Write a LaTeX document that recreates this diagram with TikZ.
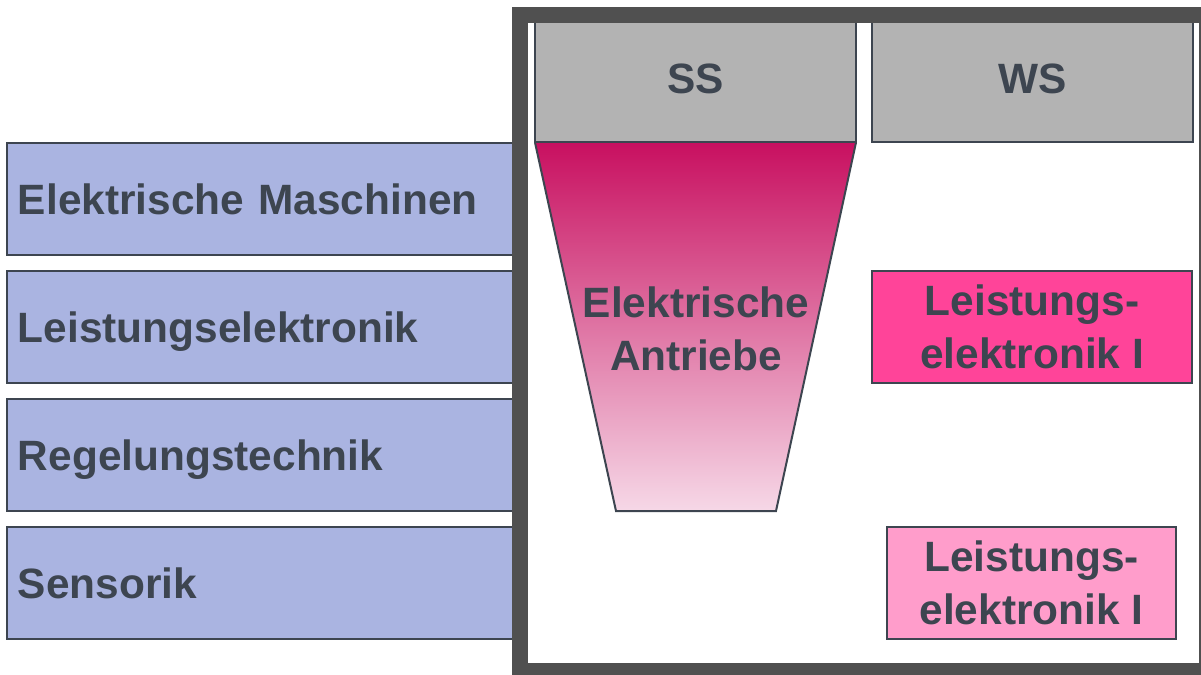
\documentclass[tikz,border=0pt]{standalone}
\usepackage{fontspec}
\setmainfont{Liberation Sans}
\usepackage{tikz}
\usetikzlibrary{positioning}

\definecolor{slate}{RGB}{61,69,80}
\definecolor{framegray}{RGB}{80,80,80}
\definecolor{lavender}{RGB}{170,180,225}
\definecolor{headgray}{RGB}{179,179,179}
\definecolor{hotpink}{RGB}{255,68,153}
\definecolor{lightpink}{RGB}{255,157,203}
\definecolor{berry}{RGB}{200,16,96}
\definecolor{blush}{RGB}{246,216,231}

\tikzset{
  lbl/.style={font=\fontsize{21.2}{26.5}\selectfont\bfseries, text=slate},
  topic/.style={lbl, draw=slate, line width=1pt, fill=lavender, minimum width=256.5pt,
    minimum height=56pt, text width=245.5pt, align=left, inner xsep=5.5pt,
    text height=15.2pt, text depth=0pt},
  term/.style={lbl, draw=slate, line width=1pt, fill=headgray, minimum width=160.5pt,
    minimum height=63.5pt},
  course/.style={lbl, draw=slate, line width=1pt, minimum height=56pt, align=center},
}

\begin{document}
\begin{tikzpicture}[x=0.5pt, y=-0.5pt]
    % fix size of the page
    \useasboundingbox (0,0) rectangle (1201,675);
    \clip (0,0) rectangle (1201,675);

    % topics on the left
    \foreach \name/\yy/\txt in {em/199/Elektrische Maschinen, le/327/Leistungselektronik,
        rt/455/Regelungstechnik, se/583/Sensorik} {
      \node[topic] (\name) at (263.5,\yy) {\txt};
    }

    % funnel below SS
    \coordinate (tl) at (535,142.5);
    \coordinate (tr) at (856,142.5);
    \coordinate (bl) at (616,511);
    \coordinate (br) at (776,511);
    \shade[top color=berry, bottom color=blush] (tl) -- (tr) -- (br) -- (bl) -- cycle;
    \draw[slate, line width=1pt] (tl) -- (bl) -- (br) -- (tr);
    \node[lbl, align=center] (ea) at (696,329) {Elektrische\\Antriebe};

    % semester heads
    \node[term] (ss) at (695.5,78.5) {SS};
    \node[term] (ws) at (1032.5,78.5) {WS};

    % courses in WS
    \node[course, fill=hotpink, minimum width=160pt] (lea) at (1032,327) {Leistungs-\\elektronik I};
    \node[course, fill=lightpink, minimum width=144.5pt] (leb) at (1031.5,583) {Leistungs-\\elektronik I};

    % frame
    \draw[framegray, line width=8pt] (520,15) rectangle (1207,671);
\end{tikzpicture}
\end{document}
